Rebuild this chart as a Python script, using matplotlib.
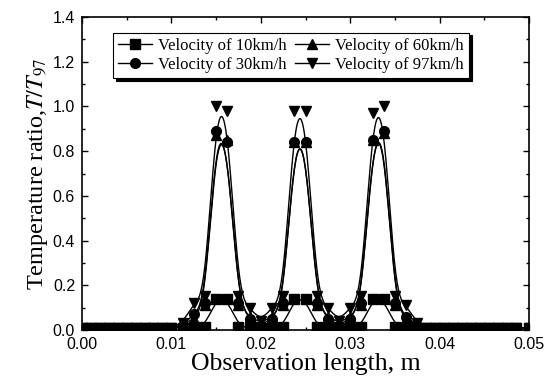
import numpy as np
import matplotlib.pyplot as plt
from matplotlib.ticker import MultipleLocator, FormatStrFormatter

# observation positions (m)
x_left = [0.000, 0.001, 0.002, 0.003, 0.004, 0.005, 0.006, 0.007, 0.008, 0.009, 0.010]
x_mid = [0.01125, 0.0125, 0.01375, 0.015, 0.01625, 0.0175, 0.01875, 0.02, 0.02125, 0.0225,
         0.02375, 0.025, 0.02625, 0.0275, 0.02875, 0.03, 0.03125, 0.0325, 0.03375, 0.035,
         0.03625, 0.0375]
x_right = [0.0385, 0.0395, 0.0405, 0.0415, 0.0425, 0.0435, 0.0445, 0.0455, 0.0465, 0.0475,
           0.0485, 0.05]
x_obs = x_left + x_mid + x_right

flat_left = [0.01] * len(x_left)
flat_right = [0.01] * len(x_right)

v10_mid = [0.01, 0.015, 0.015, 0.14, 0.14, 0.015, 0.01, 0.01, 0.01, 0.015,
           0.14, 0.14, 0.015, 0.01, 0.01, 0.01, 0.015, 0.14, 0.14, 0.015,
           0.015, 0.01]
v30_mid = [0.02, 0.07, 0.12, 0.89, 0.84, 0.12, 0.05, 0.02, 0.05, 0.12,
           0.84, 0.84, 0.12, 0.05, 0.02, 0.05, 0.12, 0.85, 0.89, 0.12,
           0.06, 0.02]
v60_mid = [0.02, 0.05, 0.11, 0.87, 0.85, 0.11, 0.06, 0.03, 0.06, 0.11,
           0.84, 0.84, 0.11, 0.06, 0.03, 0.06, 0.11, 0.85, 0.88, 0.11,
           0.05, 0.02]
v97_mid = [0.03, 0.12, 0.15, 1.00, 0.98, 0.15, 0.10, 0.04, 0.10, 0.15,
           0.98, 0.98, 0.15, 0.10, 0.04, 0.10, 0.15, 0.97, 1.00, 0.15,
           0.11, 0.03]

series = [
    ('Velocity of 10km/h', 's', flat_left + v10_mid + flat_right),
    ('Velocity of 30km/h', 'o', flat_left + v30_mid + flat_right),
    ('Velocity of 60km/h', '^', flat_left + v60_mid + flat_right),
    ('Velocity of 97km/h', 'v', flat_left + v97_mid + flat_right),
]


def bspline(px, py, n=16):
    # uniform cubic B-spline with the data as control points (ends clamped)
    px = np.concatenate([[px[0]] * 2, px, [px[-1]] * 2])
    py = np.concatenate([[py[0]] * 2, py, [py[-1]] * 2])
    t = np.linspace(0, 1, n, endpoint=False)
    b0 = (1 - t) ** 3 / 6
    b1 = (3 * t**3 - 6 * t**2 + 4) / 6
    b2 = (-3 * t**3 + 3 * t**2 + 3 * t + 1) / 6
    b3 = t**3 / 6
    xs, ys = [], []
    for i in range(len(px) - 3):
        xs.append(b0 * px[i] + b1 * px[i+1] + b2 * px[i+2] + b3 * px[i+3])
        ys.append(b0 * py[i] + b1 * py[i+1] + b2 * py[i+2] + b3 * py[i+3])
    return np.concatenate(xs), np.concatenate(ys)


plt.rcParams['font.family'] = 'Liberation Serif'
plt.rcParams['mathtext.fontset'] = 'stix'
fig = plt.figure(figsize=(5.5, 3.78), dpi=100)
ax = fig.add_axes([0.149, 0.127, 0.813, 0.828])

handles = []
for label, mk, vals in series:
    sx, sy = bspline(np.array(x_obs), np.array(vals))
    ax.plot(sx, sy, color='k', lw=1.0)
    ax.plot(x_obs, vals, ls='none', marker=mk, ms=7, color='k')
    h, = ax.plot([], [], color='k', lw=1.0, marker=mk, ms=7, label=label)
    handles.append(h)

ax.set_xlim(0, 0.05)
ax.set_ylim(0, 1.4)
ax.xaxis.set_major_locator(MultipleLocator(0.01))
ax.xaxis.set_minor_locator(MultipleLocator(0.005))
ax.yaxis.set_major_locator(MultipleLocator(0.2))
ax.yaxis.set_minor_locator(MultipleLocator(0.1))
ax.xaxis.set_major_formatter(FormatStrFormatter('%.2f'))
ax.yaxis.set_major_formatter(FormatStrFormatter('%.1f'))
ax.tick_params(which='both', direction='in', top=True, right=True, width=1)
ax.tick_params(which='major', length=4)
ax.tick_params(which='minor', length=2)
ax.tick_params(axis='x', pad=5)
ax.tick_params(axis='y', pad=5)
for lab in ax.get_xticklabels() + ax.get_yticklabels():
    lab.set_family('Liberation Sans')
    lab.set_fontsize(11.5)
for sp in ax.spines.values():
    sp.set_linewidth(1.2)

ax.set_xlabel('Observation length, m', fontsize=18.5, labelpad=1)
ax.set_ylabel('Temperature ratio,$T/T_{97}$', fontsize=17.5, labelpad=2)

leg = ax.legend(handles=handles, ncol=2, loc='upper left', bbox_to_anchor=(0.07, 0.95),
                fontsize=12, frameon=True, fancybox=False, edgecolor='k',
                framealpha=1, shadow={'color': 'k', 'alpha': 1},
                handlelength=2.0, handletextpad=0.4, columnspacing=0.5,
                labelspacing=0.2, borderpad=0.3, borderaxespad=0)
leg.get_frame().set_linewidth(0.8)

fig.savefig('out.png', dpi=100)
